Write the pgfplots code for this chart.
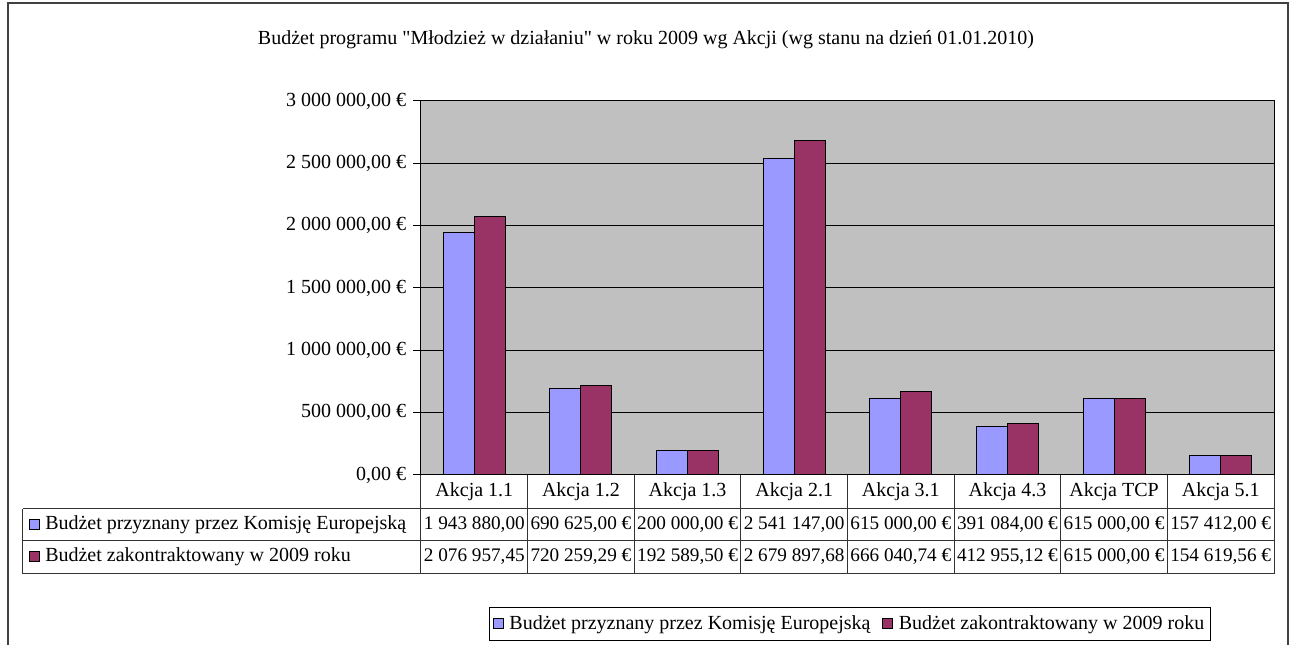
\documentclass[border=0pt]{standalone}
\usepackage{pgfplots}
\usepackage{pgfplotstable}
\pgfplotsset{compat=1.18}
\usepackage{fontspec}
\setmainfont{Liberation Serif}[Ligatures=TeXOff]

\definecolor{kom}{HTML}{9999FF}
\definecolor{kon}{HTML}{993366}
\definecolor{tlo}{HTML}{C0C0C0}

% budzet w euro: przyznany (KE) i zakontraktowany (2009)
\pgfplotstableread{
idx ke       kontr
0   1943880.00 2076957.45
1   690625.00  720259.29
2   200000.00  192589.50
3   2541147.00 2679897.68
4   615000.00  666040.74
5   391084.00  412955.12
6   615000.00  615000.00
7   157412.00  154619.56
}\budzet

\begin{document}
\fontsize{15}{18}\selectfont
\begin{tikzpicture}[px/.style={x=0.75pt,y=-0.75pt,shift={(-421,-475)}}]
\begin{scope}[px]
  \useasboundingbox (0,0) rectangle (1292,645);
  \draw[line width=1.3pt, black!75] (8,670) -- (8,3) -- (1288,3) -- (1288,670);
  \node[inner sep=0] at (646,40) {Budżet programu "Młodzież w działaniu" w roku 2009 wg Akcji (wg stanu na dzień 01.01.2010)};
\end{scope}

\begin{axis}[
    at={(0,0)}, anchor=south west,
    scale only axis,
    width=639.75pt, height=280.5pt,
    xmin=-0.5, xmax=7.5,
    ymin=0, ymax=3000000,
    ybar=0pt, bar width=23.25pt,
    axis background/.style={fill=tlo},
    axis line style={black, line width=0.75pt},
    ymajorgrids,
    grid style={black, line width=0.75pt},
    scaled y ticks=false,
    ytick={0,500000,1000000,1500000,2000000,2500000,3000000},
    yticklabels={{0,00 €},{500 000,00 €},{1 000 000,00 €},{1 500 000,00 €},{2 000 000,00 €},{2 500 000,00 €},{3 000 000,00 €}},
    ytick pos=left, ytick align=outside,
    major tick length=6pt,
    tick style={black, line width=0.75pt},
    xtick={0,...,7},
    xticklabels={Akcja 1.1,Akcja 1.2,Akcja 1.3,Akcja 2.1,Akcja 3.1,Akcja 4.3,Akcja TCP,Akcja 5.1},
    xtick pos=bottom, xtick align=inside,
    x tick style={draw=none},
    x tick label style={anchor=center, inner sep=0pt, yshift=-12.75pt},
    legend columns=2,
    legend style={at={(0.503,-0.352)}, anchor=north, draw=black, line width=0.75pt,
        inner xsep=3pt, inner ysep=4pt,
        /tikz/every odd column/.append style={column sep=2pt},
        /tikz/every even column/.append style={column sep=7pt}},
    legend image code/.code={\draw[#1] (0pt,-3.5pt) rectangle (7.5pt,4pt);},
]
\addplot[fill=kom, draw=black, line width=0.75pt] table[x=idx, y=ke] {\budzet};
\addlegendentry{Budżet przyznany przez Komisję Europejską}
\addplot[fill=kon, draw=black, line width=0.75pt] table[x=idx, y=kontr] {\budzet};
\addlegendentry{Budżet zakontraktowany w 2009 roku}
\end{axis}

\begin{scope}[px]
  % tabela danych pod osia
  \draw[line width=0.75pt, black!80] (23,509) -- (1274,509) (23,541) -- (1274,541)
      (23,574) -- (1274,574) (23,509) -- (23,574);
  \foreach \i in {0,...,8} {
    \draw[line width=0.75pt, black!80] ({421+106.625*\i},475) -- ({421+106.625*\i},574);
  }
  \draw[fill=kom, line width=0.75pt] (30,520) rectangle (40,530);
  \draw[fill=kon, line width=0.75pt] (30,552) rectangle (40,562);
  \node[anchor=west, inner sep=0] at (45,525) {Budżet przyznany przez Komisję Europejską};
  \node[anchor=west, inner sep=0] at (45,557) {Budżet zakontraktowany w 2009 roku};
  \begin{scope}[every node/.style={inner sep=0, font=\fontsize{14.4}{17}\selectfont}]
  \node at ({421+106.625*0.5},525) {1 943 880,00};
  \node at ({421+106.625*1.5},525) {690 625,00 €};
  \node at ({421+106.625*2.5},525) {200 000,00 €};
  \node at ({421+106.625*3.5},525) {2 541 147,00};
  \node at ({421+106.625*4.5},525) {615 000,00 €};
  \node at ({421+106.625*5.5},525) {391 084,00 €};
  \node at ({421+106.625*6.5},525) {615 000,00 €};
  \node at ({421+106.625*7.5},525) {157 412,00 €};
  \node at ({421+106.625*0.5},557) {2 076 957,45};
  \node at ({421+106.625*1.5},557) {720 259,29 €};
  \node at ({421+106.625*2.5},557) {192 589,50 €};
  \node at ({421+106.625*3.5},557) {2 679 897,68};
  \node at ({421+106.625*4.5},557) {666 040,74 €};
  \node at ({421+106.625*5.5},557) {412 955,12 €};
  \node at ({421+106.625*6.5},557) {615 000,00 €};
  \node at ({421+106.625*7.5},557) {154 619,56 €};
  \end{scope}
\end{scope}
\end{tikzpicture}
\end{document}
